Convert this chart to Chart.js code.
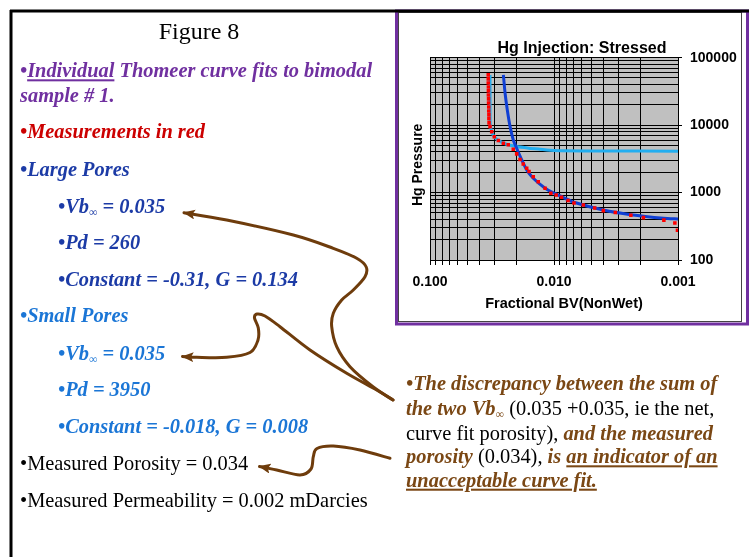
<!DOCTYPE html>
<html>
<head>
<meta charset="utf-8">
<script src="https://cdn.jsdelivr.net/npm/chart.js@4.4.1/dist/chart.umd.min.js"></script>
<style>
  html, body { margin: 0; padding: 0; background: #fff; }
  #slide { position: relative; width: 749px; height: 557px; overflow: hidden; background: #fff; }
  #chartHg { position: absolute; left: 399px; top: 14px; width: 342px; height: 307px; }
  #deco { position: absolute; left: 0; top: 0; }
  .t { font-family: "Liberation Serif", "Times New Roman", serif; font-size: 20.4px; }
  .bi { font-weight: bold; font-style: italic; }
</style>
</head>
<body>
<div id="slide">
  <canvas id="chartHg" width="342" height="307"></canvas>
  <svg id="deco" width="749" height="557">
    <defs>
      <marker id="ah" markerWidth="13" markerHeight="11" refX="11" refY="5" orient="auto" markerUnits="userSpaceOnUse">
        <path d="M0,0 L12,5 L0,10 L2.5,5 z" fill="#6e3c0c"/>
      </marker>
    </defs>

    <!-- chart box frame -->
    <rect x="396.5" y="11" width="351" height="313" fill="none" stroke="#7030a0" stroke-width="3"/>
    <rect x="398.5" y="12.5" width="343" height="309" fill="none" stroke="#444" stroke-width="1"/>
    <!-- slide frame -->
    <line x1="10" y1="11" x2="749" y2="11" stroke="#000" stroke-width="3"/>
    <line x1="11" y1="10" x2="11" y2="557" stroke="#000" stroke-width="3"/>

    <text x="199" y="39" class="t" style="font-size:24px" text-anchor="middle" fill="#000">Figure 8</text>

    <text x="20" y="77.3" class="t bi" fill="#7030a0">•<tspan style="text-decoration:underline">Individual</tspan> Thomeer curve fits to bimodal</text>
    <text x="20" y="101.7" class="t bi" fill="#7030a0">sample # 1.</text>
    <text x="20" y="138.3" class="t bi" fill="#cc0000">•Measurements in red</text>

    <text x="20" y="175.7" class="t bi" fill="#1c3ba6">•Large Pores</text>
    <text x="58" y="212.7" class="t bi" fill="#1c3ba6">•Vb<tspan style="font-size:12px" dy="3">∞</tspan><tspan dy="-3"> = 0.035</tspan></text>
    <text x="58" y="249.3" class="t bi" fill="#1c3ba6">•Pd = 260</text>
    <text x="58" y="286" class="t bi" fill="#1c3ba6">•Constant = -0.31, G = 0.134</text>

    <text x="20" y="322.3" class="t bi" fill="#1b76d6">•Small Pores</text>
    <text x="58" y="360" class="t bi" fill="#1b76d6">•Vb<tspan style="font-size:12px" dy="3">∞</tspan><tspan dy="-3"> = 0.035</tspan></text>
    <text x="58" y="396" class="t bi" fill="#1b76d6">•Pd = 3950</text>
    <text x="58" y="432.7" class="t bi" fill="#1b76d6">•Constant = -0.018, G = 0.008</text>

    <text x="20" y="470" class="t" fill="#000">•Measured Porosity = 0.034</text>
    <text x="20" y="506.7" class="t" fill="#000">•Measured Permeability = 0.002 mDarcies</text>

    <text x="406" y="390" class="t bi" fill="#7a4714">•The discrepancy between the sum of</text>
    <text x="406" y="415" class="t" fill="#000"><tspan class="bi" fill="#7a4714">the two Vb</tspan><tspan class="bi" fill="#7a4714" style="font-size:12px" dy="3">∞</tspan><tspan dy="-3"> (0.035 +0.035, ie the net,</tspan></text>
    <text x="406" y="440" class="t" fill="#000">curve fit porosity), <tspan class="bi" fill="#7a4714">and the measured</tspan></text>
    <text x="406" y="463.3" class="t" fill="#000"><tspan class="bi" fill="#7a4714">porosity</tspan> (0.034), <tspan class="bi" fill="#7a4714">is </tspan><tspan class="bi" fill="#7a4714" style="text-decoration:underline">an indicator of an</tspan></text>
    <text x="406" y="486.7" class="t bi" fill="#7a4714" style="text-decoration:underline">unacceptable curve fit.</text>

    <g id="arrows" fill="none" stroke="#6e3c0c" stroke-width="3" stroke-linecap="round"></g>
  </svg>
</div>

<script>
// ── DATA ────────────────────────────────────────────────────
// Hg injection: fractional bulk volume vs. pressure
const measuredBV = [0.0339, 0.0339, 0.0339, 0.0338, 0.0338, 0.0338, 0.0337, 0.0337, 0.0336, 0.0336, 0.0335, 0.0335, 0.0334,
                    0.0328, 0.0318, 0.0303, 0.0281, 0.0256, 0.0234, 0.0213, 0.0200, 0.0188, 0.0177, 0.0166, 0.0159,
                    0.0147, 0.0134, 0.0118, 0.0106, 0.0096, 0.0087, 0.0077, 0.0069, 0.0058, 0.0047, 0.0040, 0.0032,
                    0.0024, 0.0019, 0.0013, 0.00106, 0.00101];
const measuredP  = [55600, 48500, 42300, 36900, 32200, 28000, 24500, 21300, 18600, 16200, 14200, 12400, 10800,
                    9500, 8000, 6750, 5900, 5400, 5100, 4400, 3750, 3100, 2650, 2300, 2050,
                    1720, 1450, 1160, 980, 920, 850, 760, 700, 655, 590, 540, 505,
                    460, 425, 390, 355, 276];

// large pores fit (Pd = 260)
const largeBV = [0.0256, 0.0248, 0.0238, 0.0226, 0.0213, 0.0200, 0.0182, 0.0166, 0.0147, 0.0118, 0.0100, 0.0087, 0.0069, 0.0040, 0.0024, 0.0013, 0.0010];
const largeP  = [55600, 29700, 16800, 9500, 6030, 4540, 3050, 2170, 1630, 1160, 980, 873, 719, 551, 470, 416, 406];

// small pores fit (Pd = 3950)
const smallBV = [0.0328, 0.0328, 0.0327, 0.0320, 0.0305, 0.0280, 0.0245, 0.0205, 0.0160, 0.0130, 0.0100, 0.0043, 0.0010];
const smallP  = [55600, 23700, 10500, 8300, 6800, 5900, 5250, 4850, 4550, 4390, 4210, 4140, 4100];

const xTickValues = [0.1, 0.01, 0.001];
const xTickLabels = ['0.100', '0.010', '0.001'];
const yTickValues = [100, 1000, 10000, 100000];
const yTickLabels = ['100', '1000', '10000', '100000'];

const chartTitle = 'Hg Injection: Stressed';
const xTitle = 'Fractional BV(NonWet)';
const yTitle = 'Hg Pressure';

// ── HELPERS ─────────────────────────────────────────────────
const FONT = "'Liberation Sans', Arial, sans-serif";

function decades(lo, hi) {
  const out = [];
  for (let e = Math.round(Math.log10(lo)); e < Math.round(Math.log10(hi)); e++) {
    for (let m = 1; m < 10; m++) out.push(Number((m * Math.pow(10, e)).toPrecision(4)));
  }
  out.push(hi);
  return out;
}
const isMajor = v => Math.abs(Math.log10(v) - Math.round(Math.log10(v))) < 1e-6;
const labelFor = (vals, labels) => v => {
  const i = vals.findIndex(t => Math.abs(t / v - 1) < 1e-6);
  return i < 0 ? '' : labels[i];
};
const pairs = (xs, ys) => xs.map((x, i) => ({ x, y: ys[i] }));

// ── ARROWS ──────────────────────────────────────────────────
function smoothPath(pts) {
  let d = `M${pts[0][0]},${pts[0][1]}`;
  for (let i = 0; i < pts.length - 1; i++) {
    const p0 = pts[i - 1] || pts[i], p1 = pts[i], p2 = pts[i + 1], p3 = pts[i + 2] || p2;
    const c1 = [p1[0] + (p2[0] - p0[0]) / 6, p1[1] + (p2[1] - p0[1]) / 6];
    const c2 = [p2[0] - (p3[0] - p1[0]) / 6, p2[1] - (p3[1] - p1[1]) / 6];
    d += ` C${c1} ${c2} ${p2}`;
  }
  return d;
}
const arrowPts = [
  [[393, 400], [373, 386.7], [350, 366.7], [336.7, 346.7], [331.7, 326.7], [333.3, 313.3], [341.7, 300], [353.3, 290],
   [365, 276.7], [366.2, 267], [356.7, 258.3], [333.3, 248.3], [293.3, 235], [226.7, 220], [184, 212.7]],
  [[393, 400], [376.7, 390], [346.7, 373.3], [310, 350], [280, 326.7], [265, 316], [257, 314], [254.5, 318],
   [258.3, 328], [258, 340], [250, 352.5], [226.7, 357.3], [196.7, 357.3], [182.5, 356.5]],
  [[390, 458.3], [360, 450], [333.3, 446], [317, 448.5], [313.3, 456.7], [311, 469], [300, 475], [276.7, 470], [259.5, 466.5]]
];
const g = document.getElementById('arrows');
arrowPts.forEach(pts => {
  const p = document.createElementNS('http://www.w3.org/2000/svg', 'path');
  p.setAttribute('d', smoothPath(pts));
  p.setAttribute('marker-end', 'url(#ah)');
  g.appendChild(p);
});

// ── CHART ───────────────────────────────────────────────────
const tickFont = { family: FONT, size: 14, weight: 'bold' };

new Chart(document.getElementById('chartHg'), {
  type: 'scatter',
  data: {
    datasets: [
      {
        label: 'Measured',
        data: pairs(measuredBV, measuredP),
        showLine: false,
        pointStyle: 'rect', pointRadius: 2.5, pointBorderWidth: 0,
        pointBackgroundColor: '#ff0000'
      },
      {
        label: 'Large pores',
        data: pairs(largeBV, largeP),
        showLine: true, borderColor: '#0f3fd4', borderWidth: 3,
        pointRadius: 0, tension: 0.2
      },
      {
        label: 'Small pores',
        data: pairs(smallBV, smallP),
        showLine: true, borderColor: '#22aef0', borderWidth: 3,
        pointRadius: 0, tension: 0.2
      }
    ]
  },
  options: {
    responsive: false, animation: false, devicePixelRatio: 1,
    layout: { padding: { left: 31, top: 43.7, right: 0, bottom: 0 } },
    plugins: { legend: { display: false }, tooltip: { enabled: false } },
    scales: {
      x: {
        type: 'logarithmic', reverse: true, min: 0.001, max: 0.1,
        afterBuildTicks: s => { s.ticks = decades(0.001, 0.1).map(v => ({ value: v })); },
        afterFit: s => { s.height = 61; },
        grid: { color: '#000', lineWidth: 1, tickLength: 5, tickColor: '#000' },
        border: { color: '#000' },
        ticks: { autoSkip: false, maxRotation: 0, padding: 9, color: '#000', font: tickFont,
                 callback: labelFor(xTickValues, xTickLabels) }
      },
      y: {
        type: 'logarithmic', position: 'right', min: 100, max: 100000,
        afterBuildTicks: s => { s.ticks = decades(100, 100000).map(v => ({ value: v })); },
        afterFit: s => { s.width = 63; },
        grid: { color: '#000', lineWidth: 1, tickLength: 4,
                tickColor: c => (c.tick && isMajor(c.tick.value)) ? '#000' : 'rgba(0,0,0,0)' },
        border: { color: '#000' },
        ticks: { autoSkip: false, padding: 8, color: '#000', font: tickFont,
                 callback: labelFor(yTickValues, yTickLabels) }
      }
    }
  },
  plugins: [{
    id: 'plot-bg',
    beforeDraw(chart) {
      const { ctx: c, chartArea: a } = chart;
      c.save();
      c.fillStyle = '#c0c0c0';
      c.fillRect(a.left, a.top, a.right - a.left, a.bottom - a.top);
      c.restore();
    }
  }, {
    id: 'titles',
    afterDraw(chart) {
      const { ctx: c, chartArea: a } = chart;
      const mid = (a.left + a.right) / 2;
      c.save();
      c.fillStyle = '#000';
      c.textAlign = 'center'; c.textBaseline = 'alphabetic';
      c.font = `bold 16px ${FONT}`;
      c.fillText(chartTitle, mid + 28, a.top - 5);
      c.font = `bold 14.5px ${FONT}`;
      c.fillText(xTitle, mid + 10, a.bottom + 47.7);
      c.translate(a.left - 8.5, (a.top + a.bottom) / 2 + 6);
      c.rotate(-Math.PI / 2);
      c.font = `bold 14px ${FONT}`;
      c.fillText(yTitle, 0, 0);
      c.restore();
    }
  }]
});
</script>
</body>
</html>
